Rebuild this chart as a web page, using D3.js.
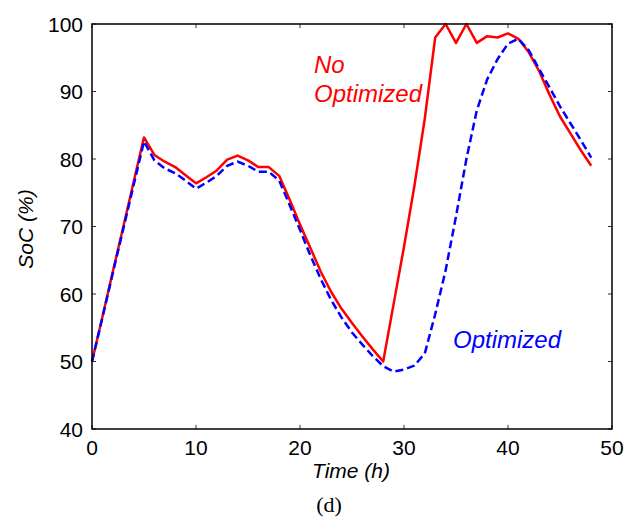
<!DOCTYPE html>
<html>
<head>
<meta charset="utf-8">
<script src="https://cdn.jsdelivr.net/npm/d3@7"></script>
<style>
  html, body { margin: 0; padding: 0; background: #fff; }
  svg { display: block; }
</style>
</head>
<body>
<svg id="chart" width="626" height="519"></svg>
<script>
// ---- data ----
const hours = [0,1,2,3,4,5,6,7,8,9,10,11,12,13,14,15,16,17,18,19,20,21,22,23,24,25,26,27,28,29,30,31,32,33,34,35,36,37,38,39,40,41,42,43,44,45,46,47,48];
const noOptimized = [50,56.6,63.3,69.9,76.6,83.2,80.6,79.6,78.8,77.6,76.4,77.3,78.3,79.9,80.5,79.8,78.8,78.8,77.5,74.0,70.3,66.8,63.3,60.3,57.8,55.7,53.7,51.8,50.0,58.5,67.0,76.0,86.0,98.0,100.0,97.2,100.0,97.2,98.2,98.0,98.6,97.8,95.8,93.0,89.5,86.3,83.8,81.3,79.0];
const optimized = [50,56.5,63.1,69.6,76.1,82.6,79.8,78.6,77.9,76.8,75.6,76.5,77.5,79.0,79.6,79.0,78.1,78.1,76.8,73.2,69.5,65.7,62.2,59.1,56.5,54.3,52.5,50.8,49.3,48.5,48.8,49.4,51.2,57.0,63.5,71.5,80.0,87.2,91.8,94.8,97.1,97.8,96.1,93.3,90.6,87.8,85.3,82.8,80.2];
const xTicks = [0,10,20,30,40,50];
const yTicks = [40,50,60,70,80,90,100];
const xLabel = "Time (h)";
const yLabel = "SoC (%)";
const caption = "(d)";
const redLabel = ["No", "Optimized"];
const blueLabel = "Optimized";

// ---- layout ----
const svg = d3.select("#chart");
const L = 92, R = 612, T = 24, B = 429;
const x = d3.scaleLinear().domain([0, 50]).range([L, R]);
const y = d3.scaleLinear().domain([40, 100]).range([B, T]);
const font = "Arial, 'Liberation Sans', Helvetica, sans-serif";

// ticks (inward, all four sides)
const tl = 4;
const tickG = svg.append("g").attr("stroke", "#333").attr("stroke-width", 1);
xTicks.forEach(v => {
  tickG.append("line").attr("x1", x(v)).attr("x2", x(v)).attr("y1", B).attr("y2", B - tl);
  tickG.append("line").attr("x1", x(v)).attr("x2", x(v)).attr("y1", T).attr("y2", T + tl);
});
yTicks.forEach(v => {
  tickG.append("line").attr("x1", L).attr("x2", L + tl).attr("y1", y(v)).attr("y2", y(v));
  tickG.append("line").attr("x1", R).attr("x2", R - tl).attr("y1", y(v)).attr("y2", y(v));
});

// lines
const line = d3.line().x((d, i) => x(hours[i])).y(d => y(d));
svg.append("path").datum(noOptimized)
  .attr("fill", "none").attr("stroke", "#ff0000").attr("stroke-width", 2.5)
  .attr("stroke-linejoin", "round").attr("d", line);
svg.append("path").datum(optimized)
  .attr("fill", "none").attr("stroke", "#0000ff").attr("stroke-width", 2.5)
  .attr("stroke-dasharray", "8,4").attr("d", line);

// box
svg.append("rect").attr("x", L).attr("y", T).attr("width", R - L).attr("height", B - T)
  .attr("fill", "none").attr("stroke", "#000").attr("stroke-width", 1.5);

// tick labels
svg.append("g").selectAll("text").data(xTicks).join("text")
  .attr("x", d => x(d)).attr("y", 455)
  .attr("text-anchor", "middle").attr("font-family", font).attr("font-size", 21)
  .text(d => d);
svg.append("g").selectAll("text").data(yTicks).join("text")
  .attr("x", 83).attr("y", d => y(d) + 7.5)
  .attr("text-anchor", "end").attr("font-family", font).attr("font-size", 21)
  .text(d => d);

// axis titles
svg.append("text").attr("x", 351).attr("y", 478).attr("text-anchor", "middle")
  .attr("font-family", font).attr("font-size", 21).attr("font-style", "italic").text(xLabel);
svg.append("text").attr("transform", "translate(33,229) rotate(-90)").attr("text-anchor", "middle")
  .attr("font-family", font).attr("font-size", 21).attr("font-style", "italic").text(yLabel);
svg.append("text").attr("x", 329).attr("y", 512).attr("text-anchor", "middle")
  .attr("font-family", "'Liberation Serif', 'Times New Roman', serif").attr("font-size", 22).text(caption);

// annotations
svg.append("text").attr("x", 314).attr("y", 73)
  .attr("font-family", font).attr("font-size", 24).attr("font-style", "italic").attr("fill", "#ff0000").text(redLabel[0]);
svg.append("text").attr("x", 314).attr("y", 102)
  .attr("font-family", font).attr("font-size", 24).attr("font-style", "italic").attr("fill", "#ff0000").text(redLabel[1]);
svg.append("text").attr("x", 453).attr("y", 348)
  .attr("font-family", font).attr("font-size", 24).attr("font-style", "italic").attr("fill", "#0000ff").text(blueLabel);
</script>
</body>
</html>
